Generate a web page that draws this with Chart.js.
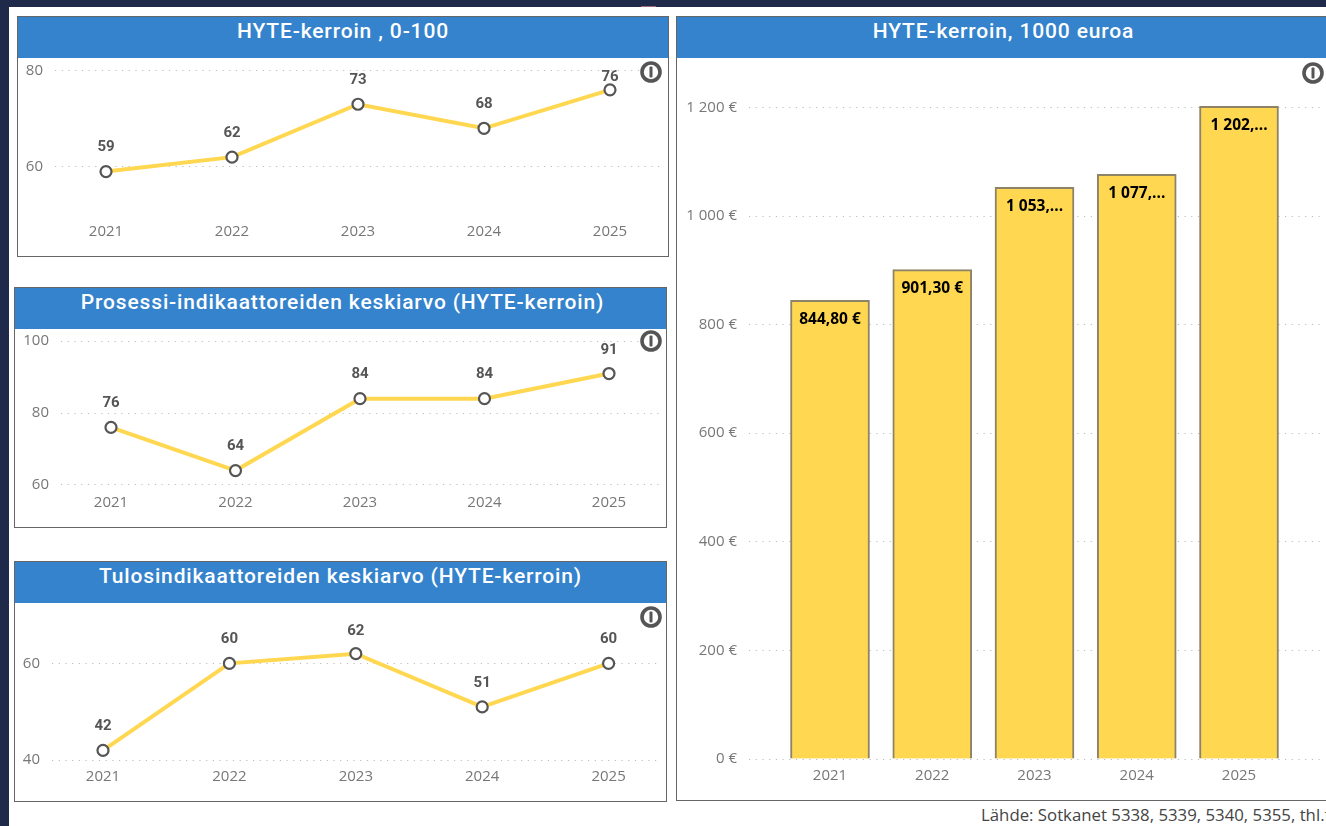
<!DOCTYPE html>
<html><head><meta charset="utf-8">
<script src="https://cdn.jsdelivr.net/npm/chart.js@4"></script>
<style>
html,body{margin:0;padding:0;background:#fff;width:1326px;height:826px;overflow:hidden}
#top{position:absolute;left:0;top:0;width:1326px;height:7px;background:#1f2949}
#side{position:absolute;left:0;top:0;width:9px;height:826px;background:#1f2949}
#mark{position:absolute;left:641px;top:6px;width:15px;height:1px;background:#9a6a78}
.panel{position:absolute;box-sizing:border-box;border:1px solid #666;background:#fff}
.head{position:absolute;left:0;top:0;right:0;height:41px;background:#3483cc;color:#fff;
 font:500 21px Roboto,sans-serif;letter-spacing:.85px;text-align:center;line-height:28px}
canvas{position:absolute;left:0;top:41px}
.info{position:absolute;width:22px;height:22px;overflow:visible}
#src{position:absolute;left:981px;top:804px;width:345px;overflow:hidden;white-space:nowrap;
 font:16.8px "Open Sans",sans-serif;color:#444;line-height:22px}
</style></head><body>
<div id="top"></div><div id="side"></div><div id="mark"></div>
<div id="root"></div>
<div id="src">Lähde: Sotkanet 5338, 5339, 5340, 5355, thl.fi</div>
<script>
const categories = [2021, 2022, 2023, 2024, 2025];
const kerroinValues = [59, 62, 73, 68, 76];
const prosessiValues = [76, 64, 84, 84, 91];
const tulosValues = [42, 60, 62, 51, 60];
const euroValues = [844.8, 901.3, 1053, 1077, 1202];
const euroLabels = ["844,80 €", "901,30 €", "1 053,...", "1 077,...", "1 202,..."];
const titles = ["HYTE-kerroin , 0-100", "Prosessi-indikaattoreiden keskiarvo (HYTE-kerroin)",
  "Tulosindikaattoreiden keskiarvo (HYTE-kerroin)", "HYTE-kerroin, 1000 euroa"];

const YELLOW = "#FFD750", TICK = "#777", GRID = "#bdbdbd";
const TICKFONT = {family:"'Open Sans',sans-serif", size:15};

const labelPlugin = {
  id:"valueLabels",
  afterDatasetsDraw(chart, args, opts){
    const ctx = chart.ctx, meta = chart.getDatasetMeta(0);
    ctx.save();
    ctx.textAlign = "center"; ctx.textBaseline = "middle";
    ctx.fillStyle = opts.color; ctx.font = opts.font;
    meta.data.forEach((el,i)=>{
      let y = opts.inside ? el.y + 19 : Math.max(el.y - 24, chart.chartArea.top + 16);
      ctx.fillText(opts.texts[i], el.x, y);
    });
    ctx.restore();
  }
};

function panel(c){
  const p = document.createElement("div");
  p.className = "panel";
  p.style.cssText = `left:${c.x}px;top:${c.y}px;width:${c.w}px;height:${c.h}px;` + (c.noRight?"border-right:none;":"");
  const h = document.createElement("div"); h.className="head"; h.textContent=c.title;
  h.style.paddingLeft = (c.titleShift||0)+"px"; p.appendChild(h);
  const cv = document.createElement("canvas");
  const cw = c.w-(c.noRight?1:2), ch = c.h-43;
  cv.width=cw; cv.height=ch; cv.style.width=cw+"px"; cv.style.height=ch+"px";
  p.appendChild(cv);
  document.getElementById("root").appendChild(p);
  const ox = c.x+1, oy = c.y+42;
  const padL = (c.p0 - c.left)/c.step, padR = (c.right - c.p0 - 4*c.step)/c.step;
  const pts = c.values.map((v,i)=>({x:categories[i], y:v}));
  const isBar = c.type==="bar";
  const noPad = s => { s.paddingLeft=s.paddingRight=s.paddingTop=s.paddingBottom=0; };
  new Chart(cv,{
    type:c.type,
    plugins:[labelPlugin],
    data:{labels:categories, datasets:[ isBar ? {
        data:pts, backgroundColor:YELLOW, borderColor:"#8d8468", borderWidth:2,
        barThickness:79
      } : {
        data:pts, borderColor:YELLOW, borderWidth:4, tension:0,
        pointRadius:5.5, pointBackgroundColor:"#fff", pointBorderColor:"#555", pointBorderWidth:2.2
      }]},
    options:{
      responsive:false, animation:false,
      layout:{autoPadding:false, padding:{top:c.top-oy, right:ox+cw-c.right, left:0, bottom:0}},
      plugins:{legend:{display:false}, tooltip:{enabled:false}, title:{display:false},
        valueLabels:{texts:c.texts, inside:isBar, color:isBar?"#000":"#555",
          font:isBar?"700 15.5px 'Open Sans',sans-serif":"700 15px Roboto,sans-serif"}},
      scales:{
        x:{type:"linear", min:categories[0]-padL, max:categories[4]+padR,
          offset:false,
          grid:{display:false}, border:{display:false},
          afterFit(s){s.height = oy+ch-c.bottom; noPad(s);},
          ticks:{stepSize:1, includeBounds:false, color:TICK, font:TICKFONT, padding:c.xPad, maxRotation:0,
            callback:v=>String(v)}},
        y:{type:"linear", min:c.min, max:c.max,
          grid:{color:GRID, lineWidth:1, drawTicks:false},
          border:{display:false, dash:[1.2,5.5]},
          afterFit(s){s.width = c.left-ox; noPad(s);},
          ticks:{stepSize:c.stepY, includeBounds:false, color:TICK, font:TICKFONT, padding:12,
            callback:c.fmt||(v=>String(v))}}
      }
    }
  });
  const ns="http://www.w3.org/2000/svg";
  const svg = document.createElementNS(ns,"svg");
  svg.setAttribute("class","info"); svg.setAttribute("viewBox","0 0 22 22");
  svg.style.left=(c.ix-11-c.x-1)+"px"; svg.style.top=(c.iy-11-c.y-1)+"px";
  svg.innerHTML='<circle cx="11" cy="11" r="9" fill="#fff" stroke="#555" stroke-width="3.6"/><rect x="9.5" y="5.5" width="3" height="11" rx="1" fill="#555"/>';
  p.appendChild(svg);
}

panel({x:17,y:16,w:652,h:241,title:titles[0],type:"line",values:kerroinValues,texts:kerroinValues,
  left:55,right:661,p0:106,step:126,top:61,bottom:210,min:51,max:82,stepY:20,xPad:5,ix:651,iy:72});
panel({x:14,y:287,w:653,h:241,title:titles[1],type:"line",values:prosessiValues,texts:prosessiValues,titleShift:4,
  left:61,right:661,p0:111,step:124.5,top:334,bottom:490,min:58.6,max:102,stepY:20,xPad:-4,ix:651,iy:341});
panel({x:14,y:561,w:653,h:241,title:titles[2],type:"line",values:tulosValues,texts:tulosValues,
  left:52,right:658,p0:103,step:126.4,top:615,bottom:764,min:39.2,max:70,stepY:20,xPad:-4,ix:651,iy:617});
panel({x:676,y:16,w:650,h:785,title:titles[3],type:"bar",noRight:true,values:euroValues,texts:euroLabels,titleShift:4,
  left:749,right:1320,p0:830,step:102.25,top:70,bottom:759,min:0,max:1269,stepY:200,xPad:0,ix:1313,iy:73,
  fmt:v=>v===0?"0 €":(v>=1000?Math.floor(v/1000)+" "+String(v%1000).padStart(3,"0"):String(v))+" €"});
</script>
</body></html>
